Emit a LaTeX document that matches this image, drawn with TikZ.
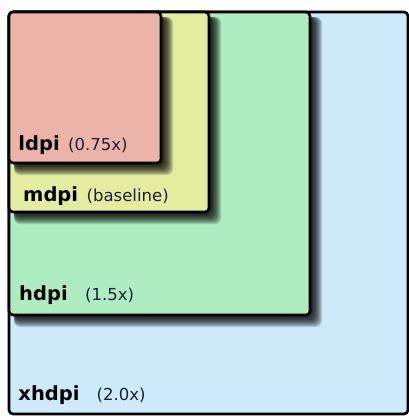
\documentclass[tikz,border=0pt]{standalone}
\usepackage{fontspec}
\setmainfont{DejaVu Sans}
\definecolor{xhcol}{RGB}{204,234,250}
\definecolor{hcol}{RGB}{174,236,194}
\definecolor{mcol}{RGB}{228,236,160}
\definecolor{lcol}{RGB}{236,180,168}
\definecolor{scaletext}{RGB}{30,30,60}
% soft drop shadow: stacked translucent layers, bottom-right corner at (#1,#2)
\newcommand\dropshade[2]{%
  \foreach \d in {1,...,14}{%
    \fill[shadelayer] (14,17) rectangle ({#1-2+\d},{#2-2+\d});
  }}
\begin{document}
\begin{tikzpicture}[x=1pt,y=-1pt,
  shadelayer/.style={fill=black, fill opacity=0.14, rounded corners=6pt},
  panel/.style={draw=black, line width=2.6pt, rounded corners=4pt,
    anchor=north west, inner sep=0pt, outer sep=0pt},
  dens/.style={anchor=base west, inner sep=0pt,
    font=\bfseries\fontsize{19.5}{20}\selectfont},
  factor/.style={anchor=base west, inner sep=0pt, text=scaletext,
    font=\fontsize{16.5}{17}\selectfont}]
\useasboundingbox[fill=white] (0,0) rectangle (409,416);

% nested density panels, largest first, each casting a shadow on the one below
\node[panel, fill=xhcol, minimum width=399pt, minimum height=402pt] (xh) at (9,12) {};
\dropshade{310}{315}
\node[panel, fill=hcol,  minimum width=301pt, minimum height=303pt] (h)  at (9,12) {};
\dropshade{209}{212}
\node[panel, fill=mcol,  minimum width=200pt, minimum height=200pt] (m)  at (9,12) {};
\dropshade{161}{163}
\node[panel, fill=lcol,  minimum width=152pt, minimum height=151pt] (l)  at (9,12) {};

% labels
\node[dens]   (ltxt)  at (18.3,150) {ldpi};
\node[factor] (lfac)  at (68,150) {(0.75x)};
\node[dens]   (mtxt)  at (23,201.5) {mdpi};
\node[factor] (mfac)  at (86.5,201.5) {(baseline)};
\node[dens]   (htxt)  at (19,300) {hdpi};
\node[factor] (hfac)  at (85,300) {(1.5x)};
\node[dens]   (xhtxt) at (18.3,400) {xhdpi};
\node[factor] (xhfac) at (96.5,400) {(2.0x)};
\end{tikzpicture}
\end{document}
